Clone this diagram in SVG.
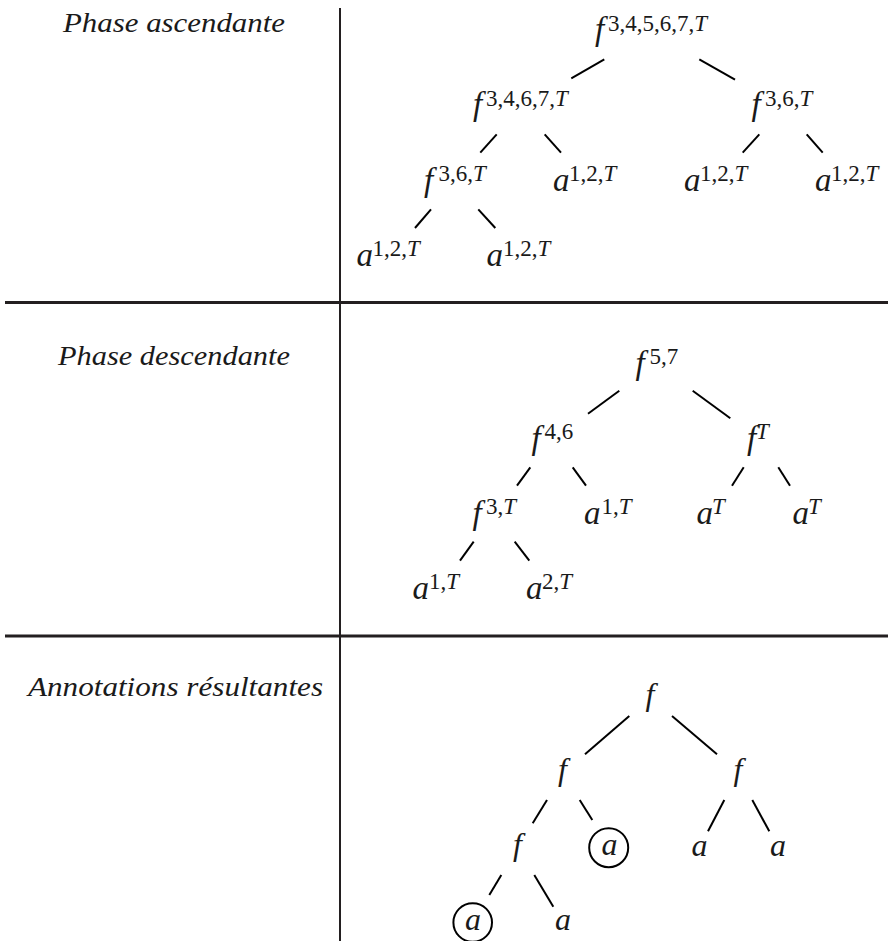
<svg xmlns="http://www.w3.org/2000/svg" width="888" height="941" viewBox="0 0 888 941">
<style>
text{font-family:"Liberation Serif","Times New Roman",serif}
.lbl{font-style:italic;font-size:27px;fill:#1a1a1a}
.m{font-style:italic;font-size:33px;fill:#1a1a1a}
.mb{font-style:italic;font-size:32px;fill:#1a1a1a}
.s{font-size:23px;font-style:normal}
.si{font-size:23px;font-style:italic}
.rule{stroke:#231f20;fill:none}
.edge{stroke:#000;stroke-width:2;fill:none;stroke-linecap:butt}
.ring{stroke:#000;stroke-width:2;fill:none}
</style>
<rect x="0" y="0" width="888" height="941" fill="#fff"/>
<g id="table">
<line class="rule" x1="340" y1="8" x2="340" y2="941" stroke-width="2"/>
<line class="rule" x1="5" y1="302.5" x2="888" y2="302.5" stroke-width="3"/>
<line class="rule" x1="5" y1="636" x2="888" y2="636" stroke-width="3"/>
</g>
<g id="labels">
<text class="lbl" x="63" y="31.5" textLength="222" lengthAdjust="spacingAndGlyphs">Phase ascendante</text>
<text class="lbl" x="58" y="364.5" textLength="232" lengthAdjust="spacingAndGlyphs">Phase descendante</text>
<text class="lbl" x="28" y="696" textLength="295" lengthAdjust="spacingAndGlyphs">Annotations résultantes</text>
</g>
<g id="connectors">
<line class="edge" x1="604.3" y1="59.3" x2="571.3" y2="78.3"/>
<line class="edge" x1="699.3" y1="59.3" x2="735" y2="79.7"/>
<line class="edge" x1="496.7" y1="134.3" x2="480.3" y2="152.7"/>
<line class="edge" x1="544.7" y1="134.3" x2="561" y2="152.7"/>
<line class="edge" x1="759.3" y1="134.3" x2="742.7" y2="152.7"/>
<line class="edge" x1="806.7" y1="134.3" x2="822.7" y2="152.7"/>
<line class="edge" x1="431" y1="209.3" x2="415" y2="228"/>
<line class="edge" x1="478.3" y1="209.3" x2="495.3" y2="228"/>
<line class="edge" x1="619.3" y1="390.7" x2="588" y2="413.7"/>
<line class="edge" x1="692.7" y1="390.7" x2="730.3" y2="418.3"/>
<line class="edge" x1="530.3" y1="467.3" x2="517" y2="485.7"/>
<line class="edge" x1="572.7" y1="467.3" x2="586" y2="485.7"/>
<line class="edge" x1="743.7" y1="467.3" x2="732" y2="485.7"/>
<line class="edge" x1="778.3" y1="467.3" x2="790" y2="485.7"/>
<line class="edge" x1="473.7" y1="541.7" x2="460" y2="560.7"/>
<line class="edge" x1="514.7" y1="541.7" x2="529.3" y2="560.7"/>
<line class="edge" x1="629.3" y1="716" x2="585" y2="754.3"/>
<line class="edge" x1="672" y1="716" x2="717" y2="754.3"/>
<line class="edge" x1="547" y1="800" x2="532.7" y2="823.3"/>
<line class="edge" x1="579.7" y1="800" x2="592.3" y2="820"/>
<line class="edge" x1="724.3" y1="800" x2="708" y2="831.3"/>
<line class="edge" x1="752.3" y1="800" x2="769.3" y2="831.3"/>
<line class="edge" x1="501.3" y1="875" x2="489.3" y2="895"/>
<line class="edge" x1="534.3" y1="875" x2="553.3" y2="906.7"/>
</g>
<!-- Phase ascendante tree -->
<g id="asc-root"><text class="m" x="595" y="40">f<tspan class="s" x="608" y="30.5">3,4,5,6,7,</tspan><tspan class="si">T</tspan></text></g>
<g id="asc-l"><text class="m" x="473" y="115.3">f<tspan class="s" x="486" y="106">3,4,6,7,</tspan><tspan class="si">T</tspan></text></g>
<g id="asc-r"><text class="m" x="751.5" y="115.3">f<tspan class="s" x="765" y="106">3,6,</tspan><tspan class="si">T</tspan></text></g>
<g id="asc-ll"><text class="m" x="424" y="190.5">f<tspan class="s" x="438.5" y="180.5">3,6,</tspan><tspan class="si">T</tspan></text></g>
<g id="asc-lr"><text class="m" x="553" y="191">a<tspan class="s" x="569" y="181">1,2,</tspan><tspan class="si">T</tspan></text></g>
<g id="asc-rl"><text class="m" x="684" y="191">a<tspan class="s" x="700" y="181">1,2,</tspan><tspan class="si">T</tspan></text></g>
<g id="asc-rr"><text class="m" x="815" y="191">a<tspan class="s" x="831" y="181">1,2,</tspan><tspan class="si">T</tspan></text></g>
<g id="asc-lll"><text class="m" x="356.5" y="266">a<tspan class="s" x="372.5" y="256">1,2,</tspan><tspan class="si">T</tspan></text></g>
<g id="asc-llr"><text class="m" x="486.5" y="266">a<tspan class="s" x="503" y="256">1,2,</tspan><tspan class="si">T</tspan></text></g>
<!-- Phase descendante tree -->
<g id="desc-root"><text class="m" x="635.5" y="373.5">f<tspan class="s" x="649.5" y="363.5">5,7</tspan></text></g>
<g id="desc-l"><text class="m" x="531.5" y="448.6">f<tspan class="s" x="544.5" y="438.6">4,6</tspan></text></g>
<g id="desc-r"><text class="m" x="747" y="448.6">f<tspan class="si" x="756" y="438.6">T</tspan></text></g>
<g id="desc-ll"><text class="m" x="472.5" y="523.6">f<tspan class="s" x="486" y="513.6">3,</tspan><tspan class="si">T</tspan></text></g>
<g id="desc-lr"><text class="m" x="584" y="524">a<tspan class="s" x="601.5" y="514">1,</tspan><tspan class="si">T</tspan></text></g>
<g id="desc-rl"><text class="m" x="696.5" y="524">a<tspan class="si" x="712" y="514">T</tspan></text></g>
<g id="desc-rr"><text class="m" x="792.5" y="524">a<tspan class="si" x="808" y="514">T</tspan></text></g>
<g id="desc-lll"><text class="m" x="412.5" y="599">a<tspan class="s" x="429" y="589">1,</tspan><tspan class="si">T</tspan></text></g>
<g id="desc-llr"><text class="m" x="526" y="599">a<tspan class="s" x="542" y="589">2,</tspan><tspan class="si">T</tspan></text></g>
<!-- Annotations résultantes tree -->
<g id="res-root"><text class="mb" x="645.5" y="704.6">f</text></g>
<g id="res-l"><text class="mb" x="558" y="780">f</text></g>
<g id="res-r"><text class="mb" x="733.5" y="780">f</text></g>
<g id="res-ll"><text class="mb" x="513" y="855">f</text></g>
<g id="res-lr"><circle class="ring" cx="608.7" cy="847.7" r="19.5"/><text class="mb" x="601.5" y="855">a</text></g>
<g id="res-rl"><text class="mb" x="691.5" y="856">a</text></g>
<g id="res-rr"><text class="mb" x="770" y="856">a</text></g>
<g id="res-lll"><circle class="ring" cx="472.7" cy="922.5" r="19.3"/><text class="mb" x="465" y="930">a</text></g>
<g id="res-llr"><text class="mb" x="555" y="930">a</text></g>
</svg>
